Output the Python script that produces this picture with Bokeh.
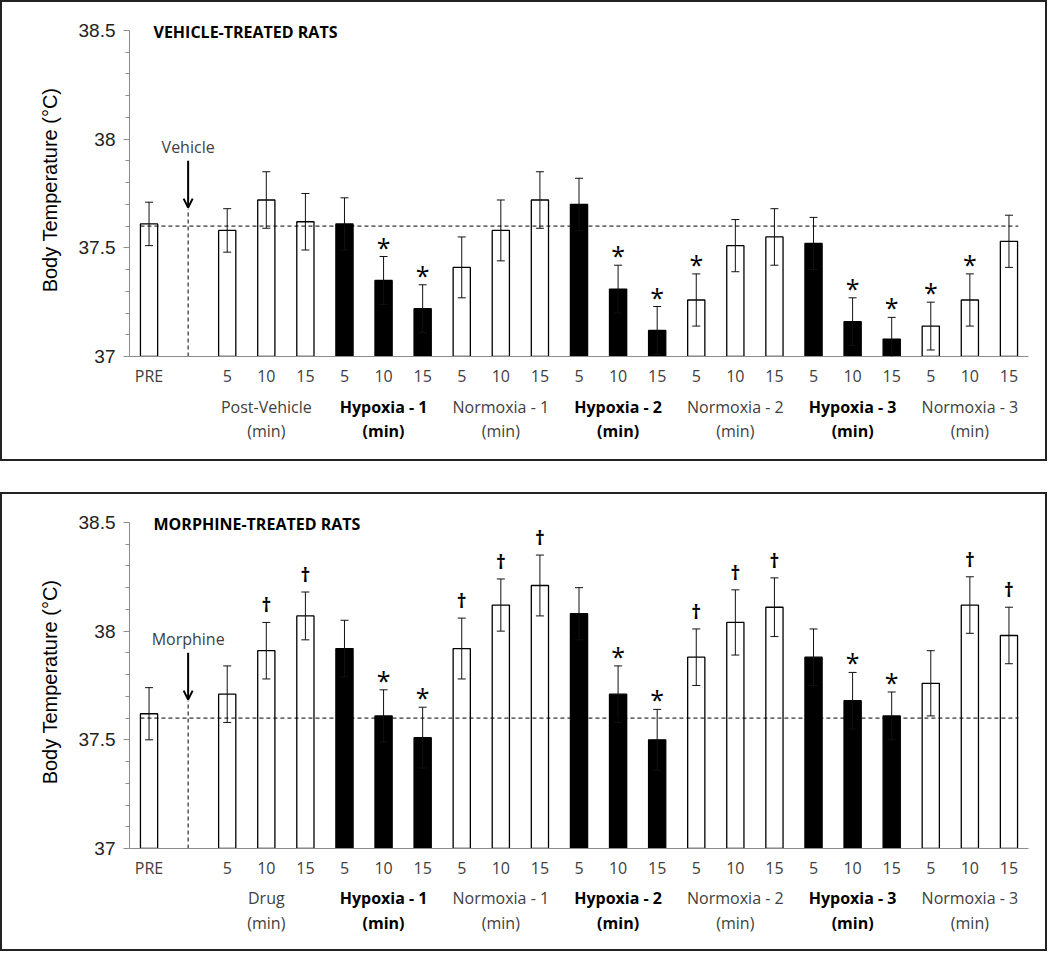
from bokeh.plotting import figure
from bokeh.models import (FixedTicker, ColumnDataSource, Whisker, TeeHead, Arrow, OpenHead,
                          Label, Range1d)
from bokeh.layouts import column
from bokeh.embed import file_html
from bokeh.resources import INLINE
from bokeh.core.properties import value

# ---------------- data ----------------
minutes = ["5", "10", "15"]
phases_vehicle = ["Post-Vehicle", "Hypoxia - 1", "Normoxia - 1", "Hypoxia - 2",
                  "Normoxia - 2", "Hypoxia - 3", "Normoxia - 3"]
phases_morphine = ["Drug", "Hypoxia - 1", "Normoxia - 1", "Hypoxia - 2",
                   "Normoxia - 2", "Hypoxia - 3", "Normoxia - 3"]
phase_hypoxic = [False, True, False, True, False, True, False]

vehicle_mean = [37.61, 37.58, 37.72, 37.62, 37.61, 37.35, 37.22, 37.41, 37.58, 37.72, 37.70,
                37.31, 37.12, 37.26, 37.51, 37.55, 37.52, 37.16, 37.08, 37.14, 37.26, 37.53]
vehicle_sem = [0.10, 0.10, 0.13, 0.13, 0.12, 0.11, 0.11, 0.14, 0.14, 0.13, 0.12,
               0.11, 0.11, 0.12, 0.12, 0.13, 0.12, 0.11, 0.10, 0.11, 0.12, 0.12]
vehicle_marks = ["", "", "", "", "", "*", "*", "", "", "", "",
                 "*", "*", "*", "", "", "", "*", "*", "*", "*", ""]

morphine_mean = [37.62, 37.71, 37.91, 38.07, 37.92, 37.61, 37.51, 37.92, 38.12, 38.21, 38.08,
                 37.71, 37.50, 37.88, 38.04, 38.11, 37.88, 37.68, 37.61, 37.76, 38.12, 37.98]
morphine_sem = [0.12, 0.13, 0.13, 0.11, 0.13, 0.12, 0.14, 0.14, 0.12, 0.14, 0.12,
                0.13, 0.14, 0.13, 0.15, 0.135, 0.13, 0.13, 0.11, 0.15, 0.13, 0.13]
morphine_marks = ["", "", "\u2020", "\u2020", "", "*", "*", "\u2020", "\u2020", "\u2020", "",
                  "*", "*", "\u2020", "\u2020", "\u2020", "", "*", "*", "", "\u2020", "\u2020"]

baseline_temp = 37.6
y_ticks = [37, 37.5, 38, 38.5]
y_minor = [37.1, 37.2, 37.3, 37.4, 37.6, 37.7, 37.8, 37.9, 38.1, 38.2, 38.3, 38.4]
y_tick_labels = ["37", "37.5", "38", "38.5"]

GREY = "#404040"
AXIS = "#8c8c8c"
W = 1043
LEFT, RIGHT = 127, 17


def build(title, drug_text, phases, means, sems, marks, label_h, line_offsets):
    n = len(means)
    tick_text = ["PRE", ""] + minutes * len(phases)
    slots = [0] + [i + 1 for i in range(1, n)]
    hyp = [False] + [phase_hypoxic[(i - 1) // 3] for i in range(1, n)]
    fill = ["black" if h else "white" for h in hyp]
    upper = [m + s for m, s in zip(means, sems)]
    lower = [m - s for m, s in zip(means, sems)]
    src = ColumnDataSource(dict(x=slots, top=means, upper=upper, lower=lower, fill=fill))

    xr = Range1d(-0.5, len(tick_text) - 0.5)
    p = figure(width=W, height=388, x_range=xr, y_range=(37, 38.532),
               output_backend="svg", toolbar_location=None,
               min_border_left=LEFT, min_border_right=RIGHT,
               min_border_top=21, min_border_bottom=34)
    p.grid.visible = False
    p.outline_line_color = None
    p.border_fill_alpha = 0
    p.background_fill_alpha = 0

    p.vbar(x="x", top="top", bottom=37, width=0.44, fill_color="fill",
           line_color="black", line_width=1.3, source=src)
    p.add_layout(Whisker(source=src, base="x", upper="upper", lower="lower",
                         line_color="#111111", line_width=1, level="annotation",
                         upper_head=TeeHead(size=8, line_width=1, line_color="#111111"),
                         lower_head=TeeHead(size=8, line_width=1, line_color="#111111")))

    # baseline dashed line
    p.segment(x0=[-0.22], y0=[baseline_temp], x1=[slots[-1] + 0.24], y1=[baseline_temp],
              line_color="black", line_width=1, line_dash="4 3", level="overlay")

    # injection marker
    p.segment(x0=[1], y0=[37], x1=[1], y1=[37.68], line_color="black", line_width=1,
              line_dash="4 3")
    p.add_layout(Arrow(x_start=1, y_start=37.90, x_end=1, y_end=37.685, line_width=2,
                       line_color="black",
                       end=OpenHead(size=9, line_width=2, line_color="black")))
    p.add_layout(Label(x=1, y=37.965, text=drug_text, text_align="center",
                       text_baseline="middle", text_font="Open Sans", text_font_size="16px",
                       text_color=GREY))

    # significance marks
    sx = [x for x, m in zip(slots, marks) if m == "*"]
    sy = [u for u, m in zip(upper, marks) if m == "*"]
    p.text(x=sx, y=sy, text=["*"] * len(sx), text_align="center", text_baseline="middle",
           y_offset=-10, text_font=value("Open Sans"), text_font_size="25px", text_color="black")
    dx = [x for x, m in zip(slots, marks) if m == "\u2020"]
    dy = [u for u, m in zip(upper, marks) if m == "\u2020"]
    p.text(x=dx, y=dy, text=["\u2020"] * len(dx), text_align="center", text_baseline="middle",
           y_offset=-17, text_font=value("Open Sans"), text_font_size="19px",
           text_font_style="bold", text_color="black")

    # title
    p.add_layout(Label(x=24, x_units="screen", y=38.493, text=title, text_font="Open Sans",
                       text_font_style="bold", text_font_size="16px", text_color="black",
                       text_baseline="middle"))

    # axes
    p.yaxis.ticker = FixedTicker(ticks=y_ticks, minor_ticks=y_minor)
    p.yaxis.bounds = (y_ticks[0], y_ticks[-1])
    p.yaxis.major_label_overrides = dict(zip(y_ticks, y_tick_labels))
    p.yaxis.axis_label = "Body Temperature (\u00b0C)"
    p.yaxis.axis_label_text_font = "Liberation Sans"
    p.yaxis.axis_label_text_font_style = "normal"
    p.yaxis.axis_label_text_font_size = "20px"
    p.yaxis.axis_label_text_color = "black"
    p.yaxis.axis_label_standoff = 15
    p.yaxis.major_label_text_font = "Liberation Sans"
    p.yaxis.major_label_text_font_size = "19px"
    p.yaxis.major_label_text_color = "#222222"
    p.yaxis.major_label_standoff = 8
    p.yaxis.major_tick_out = 6
    p.yaxis.major_tick_in = 0
    p.yaxis.minor_tick_out = 4
    p.yaxis.minor_tick_in = 0
    p.yaxis.axis_line_color = AXIS
    p.yaxis.major_tick_line_color = AXIS
    p.yaxis.minor_tick_line_color = AXIS

    p.xaxis.ticker = FixedTicker(ticks=list(range(len(tick_text))))
    p.xaxis.major_label_overrides = {i: t for i, t in enumerate(tick_text)}
    p.xaxis.major_label_text_font = "Open Sans"
    p.xaxis.major_label_text_font_size = "16px"
    p.xaxis.major_label_text_color = GREY
    p.xaxis.major_label_standoff = 8
    p.xaxis.major_tick_out = 0
    p.xaxis.major_tick_in = 0
    p.xaxis.minor_tick_out = 0
    p.xaxis.minor_tick_in = 0
    p.xaxis.major_tick_line_color = None
    p.xaxis.minor_tick_line_color = None
    p.xaxis.axis_line_color = AXIS

    # phase labels strip sharing the x scale
    q = figure(width=W, height=label_h, x_range=xr, y_range=(0, label_h),
               x_axis_type=None, y_axis_type=None, output_backend="svg",
               toolbar_location=None, min_border_left=LEFT, min_border_right=RIGHT,
               min_border_top=0, min_border_bottom=0)
    q.grid.visible = False
    q.outline_line_color = None
    q.border_fill_alpha = 0
    q.background_fill_alpha = 0
    centers = [3 + 3 * k for k in range(len(phases))]
    for bold in (True, False):
        xs = [c for c, h in zip(centers, phase_hypoxic) if h == bold]
        names = [ph for ph, h in zip(phases, phase_hypoxic) if h == bold]
        style = "bold" if bold else "normal"
        color = "black" if bold else GREY
        for txt, off in ((names, line_offsets[0]), (["(min)"] * len(xs), line_offsets[1])):
            q.text(x=xs, y=[label_h - off] * len(xs), text=txt, text_align="center",
                   text_baseline="middle", text_font=value("Open Sans"),
                   text_font_size="16px", text_font_style=style, text_color=color)

    return column(p, q, spacing=0, styles={"border": "2px solid #222222"})


panel1 = build("VEHICLE-TREATED RATS", "Vehicle", phases_vehicle, vehicle_mean, vehicle_sem,
               vehicle_marks, 69, (16, 40))
panel2 = build("MORPHINE-TREATED RATS", "Morphine", phases_morphine, morphine_mean,
               morphine_sem, morphine_marks, 67, (15, 40))

layout = column(panel1, panel2, spacing=31)
open("out.html", "w").write(file_html(layout, INLINE))
